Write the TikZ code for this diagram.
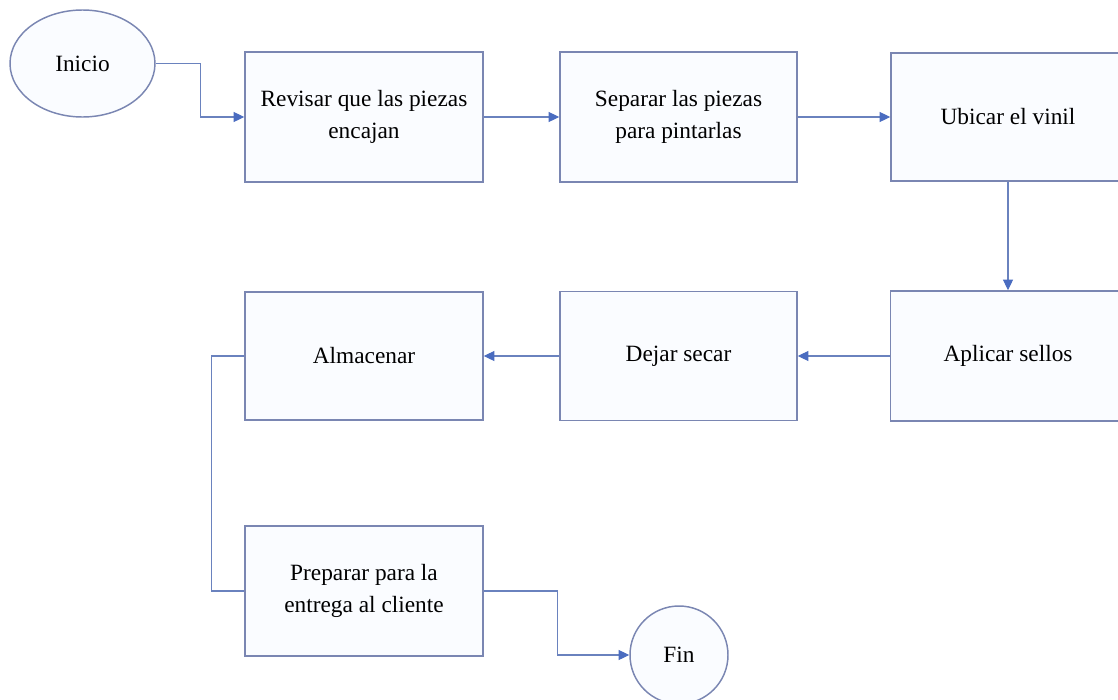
\documentclass[tikz,border=0pt]{standalone}
\usepackage{fontspec}
\setmainfont{Liberation Serif}
\usetikzlibrary{arrows.meta,shapes.geometric}
\definecolor{bordc}{HTML}{7A86B2}
\definecolor{linec}{HTML}{6A82BE}
\definecolor{arrc}{HTML}{4A6CC0}
\definecolor{fillc}{HTML}{FAFCFF}
\tikzset{
  stepbox/.style={draw=bordc, line width=1.1pt, fill=fillc, rectangle, align=center,
    font=\fontsize{17.5}{24}\selectfont, inner sep=0pt},
  flow/.style={draw=linec, line width=0.8pt, -{Triangle[length=8pt,width=7.5pt,color=arrc]}},
  plain/.style={draw=linec, line width=0.8pt},
}
\begin{document}
\begin{tikzpicture}[x=0.75pt,y=-0.75pt]
\useasboundingbox (0,0) rectangle (1118,700);
\clip (0,0) rectangle (1118,700);
\node[stepbox, ellipse, minimum width=108.75pt, minimum height=80.25pt] (ini) at (82.5,63.5) {Inicio};
\node[stepbox, minimum width=178.5pt, minimum height=97.5pt] (b1) at (364,117) {Revisar que las piezas\\encajan};
\node[stepbox, minimum width=177.75pt, minimum height=97.5pt] (b2) at (678.5,117) {Separar las piezas\\para pintarlas};
\node[stepbox, minimum width=175.5pt, minimum height=96pt] (b3) at (1008,117) {Ubicar el vinil};
\node[stepbox, minimum width=176.25pt, minimum height=97.5pt] (b4) at (1008,356) {Aplicar sellos};
\node[stepbox, minimum width=177.75pt, minimum height=96.75pt] (b5) at (678.5,356) {Dejar secar};
\node[stepbox, minimum width=178.5pt, minimum height=96pt] (b6) at (364,356) {Almacenar};
\node[stepbox, minimum width=178.5pt, minimum height=97.5pt] (b7) at (364,591) {Preparar para la\\entrega al cliente};
\node[stepbox, circle, minimum size=73.5pt] (fin) at (679,655) {Fin};
\draw[flow] (ini.east) -- ++(45,0) |- (b1.west);
\draw[flow] (b1.east) -- (b2.west);
\draw[flow] (b2.east) -- (b3.west);
\draw[flow] (b3.south) -- (b4.north);
\draw[flow] (b4.west) -- (b5.east);
\draw[flow] (b5.west) -- (b6.east);
\draw[plain] (b6.west) -- ++(-33,0) |- (b7.west);
\draw[flow] (b7.east) -- ++(74,0) |- (fin.west);
\end{tikzpicture}
\end{document}
